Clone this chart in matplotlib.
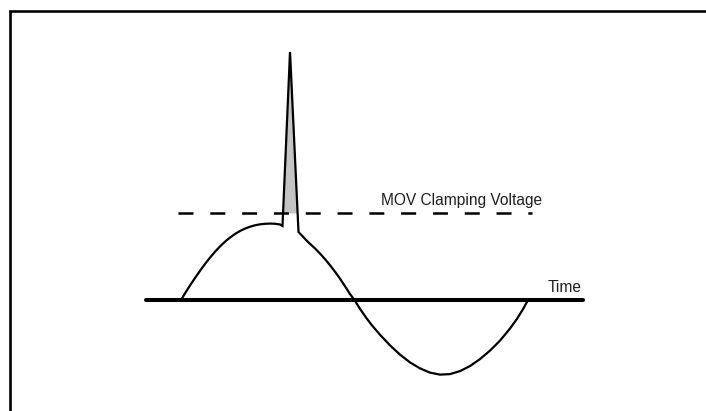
import matplotlib
matplotlib.use("Agg")
import matplotlib.pyplot as plt

plt.rcParams['font.family'] = ['Liberation Sans', 'DejaVu Sans']
plt.rcParams['lines.scale_dashes'] = False

# Waveform: time in electrical degrees, voltage in per-unit
rise_t = [0.0, 4.1, 9.3, 14.5, 19.7, 24.9, 30.1, 35.3, 40.5, 45.6, 50.8, 56.0,
          61.2, 66.4, 71.6, 76.8, 82.0, 87.1, 92.3, 97.5, 102.7, 105.3]
rise_v = [0.0, 0.088, 0.193, 0.293, 0.389, 0.48, 0.565, 0.644, 0.715, 0.777,
          0.832, 0.88, 0.92, 0.952, 0.977, 0.996, 1.009, 1.016, 1.019, 1.017,
          1.007, 0.987]

spike_t = [105.3, 113.1, 121.9]
spike_v = [0.987, 3.307, 0.907]

fall_t = [121.9, 131.8, 139.0, 144.2, 149.4, 154.6, 159.8, 165.0, 170.1,
          175.3, 180.0, 185.7, 191.9, 198.2, 206.5, 216.8, 227.2, 237.6, 248.0,
          258.3, 268.7, 279.1, 289.5, 299.8, 310.2, 320.6, 331.0, 341.3, 348.6,
          354.8, 360.0]
fall_v = [0.907, 0.773, 0.688, 0.62, 0.545, 0.464, 0.377, 0.284, 0.185,
          0.08, 0.0, -0.117, -0.233, -0.339, -0.464, -0.604, -0.728, -0.832,
          -0.912, -0.968, -0.995, -0.988, -0.948, -0.881, -0.788, -0.675,
          -0.541, -0.381, -0.251, -0.123, 0.0]

clamp_level = 1.16
clamp_label = "MOV Clamping Voltage"
time_label = "Time"

fig = plt.figure(figsize=(7.06, 4.11), dpi=100)
ax = fig.add_axes([0, 0, 1, 1])
ax.set_xlim(-187.8, 544.7)
ax.set_ylim(-1.48, 4.0)
ax.axis('off')

# outer frame (top and left edges visible)
ax.plot([10/706, 10/706, 1.0], [0.0, 1 - 11/411, 1 - 11/411],
        transform=ax.transAxes, color='black', lw=1.9, clip_on=False,
        solid_joinstyle='miter')

# time axis
ax.plot([-36.3, 417.1], [0, 0], color='black', lw=2.9, solid_capstyle='round',
        zorder=3)

# clamping voltage dashed line
ax.plot([-3.1, 364.1], [clamp_level, clamp_level], color='black', lw=1.8,
        dashes=(10.8, 12.1), dash_capstyle='butt', zorder=2)

# shaded energy above the clamping voltage
ax.fill_between(spike_t, spike_v, clamp_level,
                where=[v > clamp_level for v in spike_v], interpolate=True,
                color='#c4c4c4', lw=0, zorder=1)

# waveform
ax.plot(rise_t + spike_t[1:] + fall_t[1:], rise_v + spike_v[1:] + fall_v[1:],
        color='black', lw=1.6, solid_joinstyle='miter', zorder=4)

ax.text(207.5, 1.267, clamp_label, fontsize=11.2, color='#202020',
        ha='left', va='baseline')
ax.text(380.8, 0.107, time_label, fontsize=11.2, color='#202020',
        ha='left', va='baseline')

fig.savefig('out.png', dpi=100)
